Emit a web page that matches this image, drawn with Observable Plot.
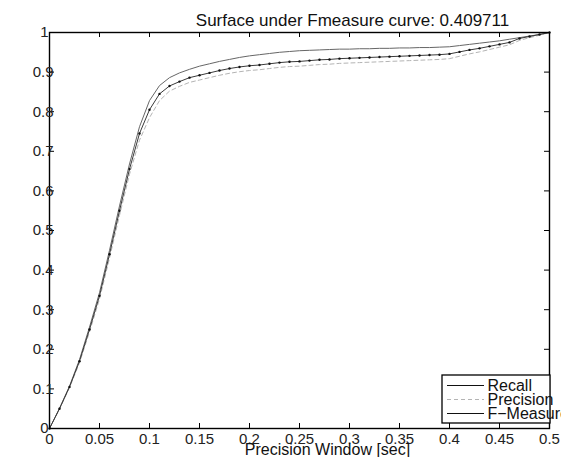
<!DOCTYPE html>
<html>
<head>
<meta charset="utf-8">
<script src="https://cdn.jsdelivr.net/npm/d3@7"></script>
<script src="https://cdn.jsdelivr.net/npm/@observablehq/plot@0.6"></script>
<style>
  html, body { margin: 0; padding: 0; background: #fff; }
  #chart svg { display: block; }
</style>
</head>
<body>
<div id="chart"></div>
<script>
// Evaluation window (seconds) at which recall / precision / F-measure were computed
const windowSec = [
  0, 0.01, 0.02, 0.03, 0.04, 0.05, 0.06, 0.07, 0.08, 0.09,
  0.10, 0.11, 0.12, 0.13, 0.14, 0.15, 0.16, 0.17, 0.18, 0.19,
  0.20, 0.21, 0.22, 0.23, 0.24, 0.25, 0.26, 0.27, 0.28, 0.29,
  0.30, 0.31, 0.32, 0.33, 0.34, 0.35, 0.36, 0.37, 0.38, 0.39,
  0.40, 0.41, 0.42, 0.43, 0.44, 0.45, 0.46, 0.47, 0.48, 0.49, 0.50
];

const recall = [
  0, 0.051, 0.107, 0.174, 0.256, 0.343, 0.45, 0.562, 0.668, 0.762,
  0.828, 0.866, 0.886, 0.898, 0.907, 0.915, 0.921, 0.927, 0.932, 0.937,
  0.941, 0.944, 0.947, 0.950, 0.952, 0.954, 0.955, 0.956, 0.957, 0.958,
  0.958, 0.959, 0.959, 0.960, 0.960, 0.961, 0.961, 0.962, 0.962, 0.963,
  0.964, 0.967, 0.970, 0.973, 0.976, 0.979, 0.983, 0.987, 0.991, 0.995, 1.0
];

const precision = [
  0, 0.049, 0.103, 0.166, 0.244, 0.327, 0.43, 0.538, 0.642, 0.728,
  0.785, 0.828, 0.852, 0.864, 0.874, 0.880, 0.886, 0.892, 0.897, 0.901,
  0.904, 0.906, 0.909, 0.912, 0.914, 0.915, 0.917, 0.919, 0.920, 0.922,
  0.923, 0.924, 0.925, 0.926, 0.927, 0.928, 0.929, 0.930, 0.931, 0.932,
  0.934, 0.940, 0.946, 0.951, 0.957, 0.963, 0.969, 0.980, 0.987, 0.993, 1.0
];

const fmeasure = [
  0, 0.05, 0.105, 0.17, 0.25, 0.335, 0.44, 0.55, 0.655, 0.745,
  0.805, 0.845, 0.865, 0.876, 0.886, 0.892, 0.898, 0.904, 0.909, 0.913,
  0.916, 0.918, 0.921, 0.924, 0.926, 0.927, 0.929, 0.931, 0.932, 0.934,
  0.935, 0.936, 0.937, 0.938, 0.939, 0.940, 0.941, 0.942, 0.943, 0.944,
  0.946, 0.951, 0.956, 0.960, 0.965, 0.970, 0.975, 0.985, 0.990, 0.995, 1.0
];

const xTicks = [0, 0.05, 0.1, 0.15, 0.2, 0.25, 0.3, 0.35, 0.4, 0.45, 0.5];
const xTickLabels = ["0", "0.05", "0.1", "0.15", "0.2", "0.25", "0.3", "0.35", "0.4", "0.45", "0.5"];
const yTicks = [0, 0.1, 0.2, 0.3, 0.4, 0.5, 0.6, 0.7, 0.8, 0.9, 1];
const yTickLabels = ["0", "0.1", "0.2", "0.3", "0.4", "0.5", "0.6", "0.7", "0.8", "0.9", "1"];

const titleText = "Surface under Fmeasure curve: 0.409711";
const xLabel = "Precision Window [sec]";
const seriesNames = ["Recall", "Precision", "F\u2212Measure"];

const rows = windowSec.map((w, i) => ({
  w, recall: recall[i], precision: precision[i], fmeasure: fmeasure[i]
}));

// y tick labels: integers sit a little further left than the decimals
const yLabelRows = yTicks.map((v, i) => ({ v, label: yTickLabels[i] }));
const yShort = yLabelRows.filter(d => d.label.length === 1);
const yLong = yLabelRows.filter(d => d.label.length > 1);

// the figure is cropped on the right, just past the axes box
const W = 561, H = 457;
const M = { top: 32, right: 12, bottom: 29, left: 49 };
const frameW = W - M.left - M.right;
const frameH = H - M.top - M.bottom;
const FONT = "'Liberation Sans', Arial, Helvetica, sans-serif";
const TICK = 5;

const chart = Plot.plot({
  width: W,
  height: H,
  marginTop: M.top,
  marginRight: M.right,
  marginBottom: M.bottom,
  marginLeft: M.left,
  style: { fontFamily: FONT, background: "#fff", overflow: "hidden", color: "#111" },
  x: { domain: [0, 0.5], axis: null },
  y: { domain: [0, 1], axis: null },
  marks: [
    // curves
    Plot.lineY(rows, { x: "w", y: "precision", stroke: "#b4b4b4", strokeWidth: 1, strokeDasharray: "4,3" }),
    Plot.lineY(rows, { x: "w", y: "recall", stroke: "#666", strokeWidth: 1 }),
    Plot.lineY(rows, { x: "w", y: "fmeasure", stroke: "#3a3a3a", strokeWidth: 1 }),
    Plot.dot(rows, { x: "w", y: "fmeasure", r: 1.2, fill: "#111", stroke: null }),

    // inward ticks on all four sides of the box
    Plot.ruleX(xTicks, { x: d => d, insetTop: frameH - TICK, stroke: "#000" }),
    Plot.ruleX(xTicks, { x: d => d, insetBottom: frameH - TICK, stroke: "#000" }),
    Plot.ruleY(yTicks, { y: d => d, insetRight: frameW - TICK, stroke: "#000" }),
    Plot.ruleY(yTicks, { y: d => d, insetLeft: frameW - TICK, stroke: "#000" }),
    Plot.frame({ stroke: "#000", strokeWidth: 1.4 }),

    // tick labels
    Plot.text(xTicks, {
      x: d => d, text: (d, i) => xTickLabels[i],
      frameAnchor: "bottom", lineAnchor: "top", dy: 5, fontSize: 15, fill: "#222"
    }),
    Plot.text(yLong, {
      y: "v", text: "label",
      frameAnchor: "left", textAnchor: "end", dx: 4, fontSize: 15, fill: "#222"
    }),
    Plot.text(yShort, {
      y: "v", text: "label",
      frameAnchor: "left", textAnchor: "end", dx: -1, fontSize: 15, fill: "#222"
    }),

    // title and axis label
    Plot.text([titleText], {
      text: d => d, frameAnchor: "top", lineAnchor: "top",
      dx: 53, dy: -19, fontSize: 17, fill: "#111"
    }),
    Plot.text([xLabel], {
      text: d => d, frameAnchor: "bottom", lineAnchor: "top",
      dx: 28, dy: 15.5, fontSize: 16, fill: "#111"
    })
  ]
});

// Legend box in the lower right corner of the axes
const svg = d3.select(chart);
const lg = svg.append("g")
  .attr("font-family", FONT)
  .attr("font-size", 16)
  .attr("text-anchor", "start");
const box = { x: 442, y: 375, w: 108, h: 48 };
lg.append("rect")
  .attr("x", box.x).attr("y", box.y).attr("width", box.w).attr("height", box.h)
  .attr("fill", "#fff").attr("stroke", "#000").attr("stroke-width", 1.3);
const legendStyles = [
  { stroke: "#111", dash: null },
  { stroke: "#b4b4b4", dash: "4,3" },
  { stroke: "#111", dash: null }
];
seriesNames.forEach((name, i) => {
  const cy = 385.5 + i * 14;
  lg.append("line")
    .attr("x1", 447).attr("x2", 484).attr("y1", cy).attr("y2", cy)
    .attr("stroke", legendStyles[i].stroke).attr("stroke-width", 1.2)
    .attr("stroke-dasharray", legendStyles[i].dash);
  lg.append("text")
    .attr("x", 487.5).attr("y", cy + 5)
    .attr("fill", "#111")
    .text(name);
});

document.getElementById("chart").append(chart);
</script>
</body>
</html>
